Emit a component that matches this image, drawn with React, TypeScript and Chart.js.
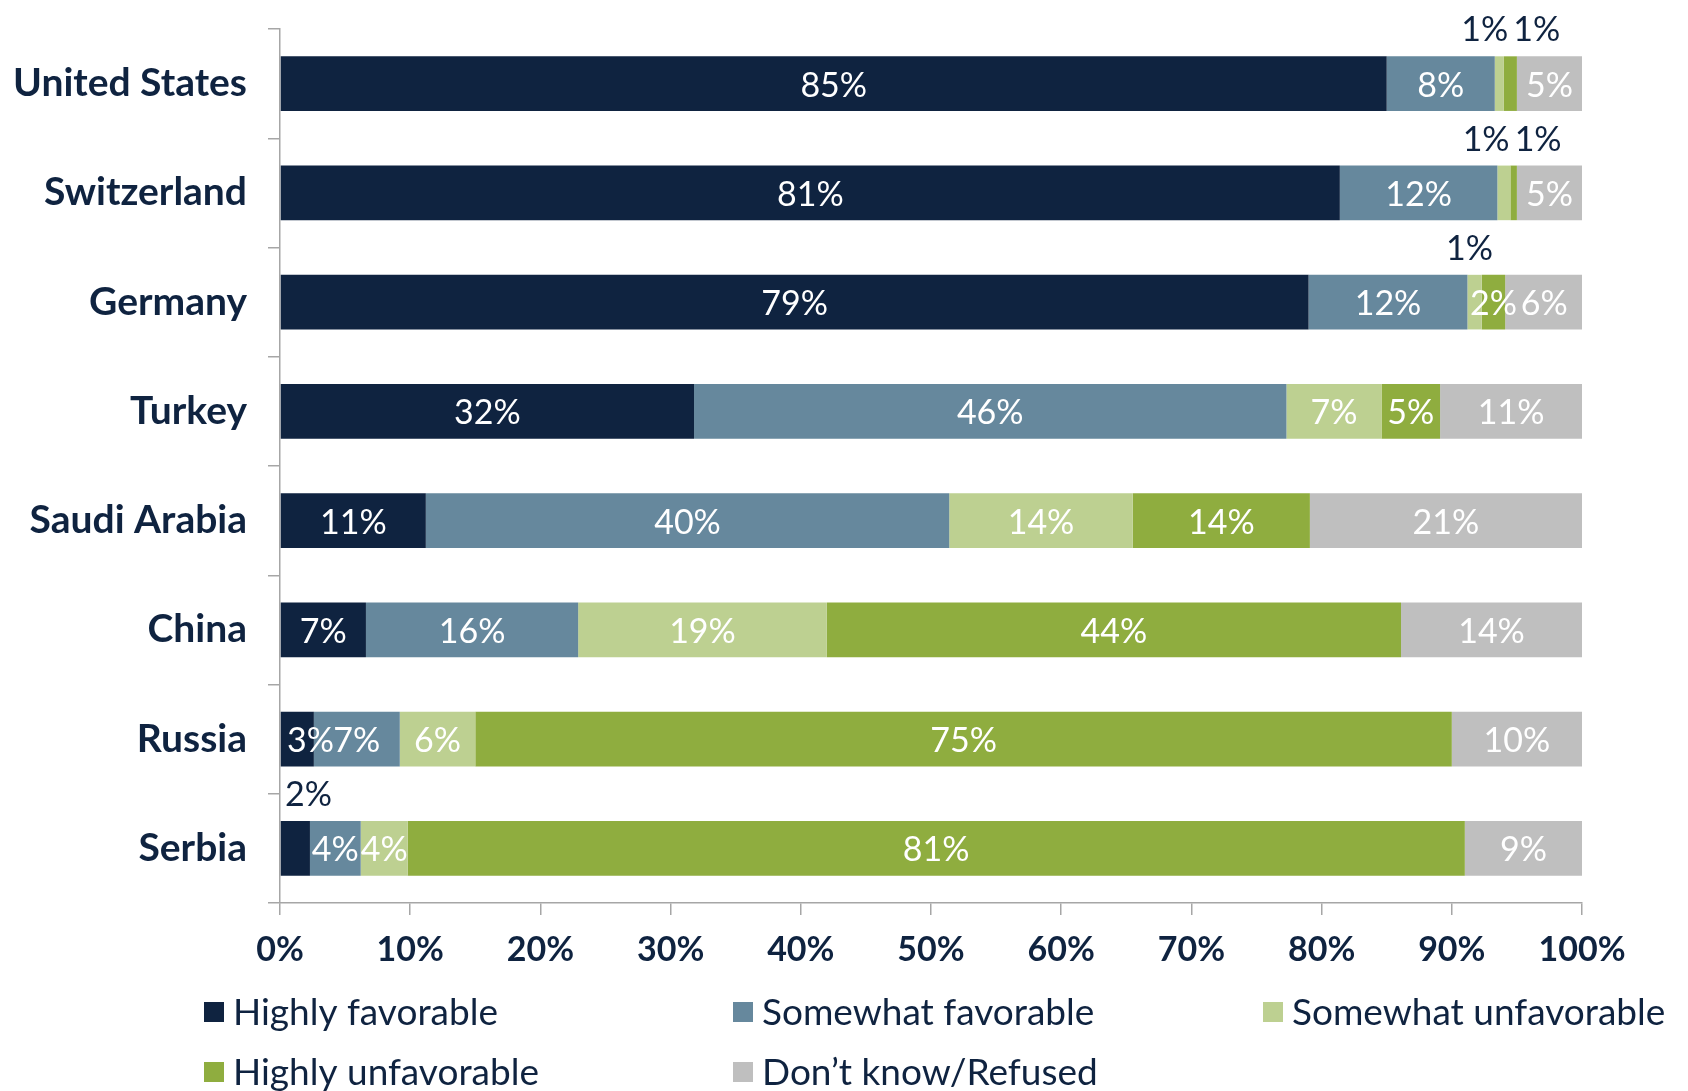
import React, { useEffect, useRef } from "react";
import { Chart, registerables } from "chart.js";

Chart.register(...registerables);

const countries = ["United States", "Switzerland", "Germany", "Turkey", "Saudi Arabia", "China", "Russia", "Serbia"];
const seriesNames = ["Highly favorable", "Somewhat favorable", "Somewhat unfavorable", "Highly unfavorable", "Don\u2019t know/Refused"];
const highlyFavorable = [85.0, 81.4, 79.0, 31.8, 11.2, 6.6, 2.6, 2.3];
const somewhatFavorable = [8.3, 12.1, 12.2, 45.5, 40.2, 16.3, 6.6, 3.9];
const somewhatUnfavorable = [0.7, 1.0, 1.1, 7.3, 14.1, 19.1, 5.8, 3.6];
const highlyUnfavorable = [1.0, 0.5, 1.8, 4.5, 13.6, 44.1, 75.0, 81.2];
const dontKnow = [5.0, 5.0, 6.0, 10.9, 20.9, 13.9, 10.0, 9.0];
const xTickValues = [0, 10, 20, 30, 40, 50, 60, 70, 80, 90, 100];
// [seriesIndex, countryIndex] of labels drawn above the bar
const outsideLabels: [number, number][] = [[2, 0], [3, 0], [2, 1], [3, 1], [2, 2], [0, 7]];

const colors = ["#0F2340", "#66889D", "#BDD091", "#8FAD3F", "#BFBFBF"];
const NAVY = "#0F2340";
const AXIS = "#A6A6A6";
const FONT = "Lato, 'Open Sans', sans-serif";

const isOutside = (ds: number, i: number) => outsideLabels.some(([a, b]) => a === ds && b === i);

const labelPlugin = {
  id: "segLabels",
  afterDatasetsDraw(chart: any) {
    const ctx = chart.ctx;
    const left = chart.chartArea.left;
    ctx.save();
    ctx.font = `34px ${FONT}`;
    ctx.textAlign = "center";
    ctx.textBaseline = "middle";
    chart.data.datasets.forEach((ds: any, di: number) => {
      const meta = chart.getDatasetMeta(di);
      meta.data.forEach((el: any, i: number) => {
        const v = ds.data[i];
        const { x, base, y, height } = el.getProps(["x", "base", "y", "height"], true);
        const txt = Math.round(v) + "%";
        const w = ctx.measureText(txt).width;
        const cx = (x + base) / 2;
        if (isOutside(di, i)) {
          const prevOut = isOutside(di - 1, i);
          const nextOut = isOutside(di + 1, i);
          let px = cx - 5;
          if (nextOut) {
            const nEl = chart.getDatasetMeta(di + 1).data[i];
            const mid = (base + nEl.x) / 2;
            px = mid - 21;
          } else if (prevOut) {
            const pEl = chart.getDatasetMeta(di - 1).data[i];
            const mid = (pEl.base + x) / 2;
            px = mid + 31;
          }
          px = Math.max(px, left + 5 + w / 2);
          ctx.fillStyle = NAVY;
          ctx.fillText(txt, px, y - height / 2 - 26);
        } else {
          const px = Math.max(cx, left + 7 + w / 2);
          ctx.fillStyle = "#FFFFFF";
          ctx.fillText(txt, px, y + 2);
        }
      });
    });
    ctx.restore();
  },
};

const legendPlugin = {
  id: "gridLegend",
  afterDraw(chart: any) {
    const ctx = chart.ctx;
    const cols = [204, 733, 1263];
    const rows = [1012, 1072];
    ctx.save();
    ctx.font = `37px ${FONT}`;
    ctx.textAlign = "left";
    ctx.textBaseline = "middle";
    chart.data.datasets.forEach((ds: any, i: number) => {
      const cx = cols[i % 3];
      const cy = rows[Math.floor(i / 3)];
      ctx.fillStyle = ds.backgroundColor;
      ctx.fillRect(cx, cy - 10, 20, 20);
      ctx.fillStyle = NAVY;
      ctx.fillText(ds.label, cx + 29, cy + 1);
    });
    ctx.restore();
  },
};

export default function App() {
  const ref = useRef<HTMLCanvasElement | null>(null);
  useEffect(() => {
    if (!ref.current) return;
    const seriesData = [highlyFavorable, somewhatFavorable, somewhatUnfavorable, highlyUnfavorable, dontKnow];
    const chart = new Chart(ref.current, {
      type: "bar",
      data: {
        labels: countries,
        datasets: seriesNames.map((name, i) => ({
          label: name,
          data: seriesData[i],
          backgroundColor: colors[i],
          borderWidth: 0,
          barPercentage: 0.5,
          categoryPercentage: 1,
        })),
      },
      options: {
        indexAxis: "y",
        responsive: false,
        animation: false,
        layout: { padding: { left: 0, right: 106, top: 29, bottom: 118 } },
        plugins: { legend: { display: false }, tooltip: { enabled: false } },
        scales: {
          x: {
            type: "linear",
            stacked: true,
            min: 0,
            max: 100,
            afterBuildTicks: (s: any) => {
              s.ticks = xTickValues.map((v) => ({ value: v }));
            },
            ticks: {
              callback: (v: any) => v + "%",
              font: { family: FONT, weight: "bold", size: 34 },
              color: NAVY,
              padding: 15,
              maxRotation: 0,
            },
            grid: { drawOnChartArea: false, drawTicks: true, tickLength: 12, color: AXIS, lineWidth: 1.5 },
            border: { color: AXIS, width: 1.5 },
            afterFit: (s: any) => {
              s.height = 70;
              s.paddingLeft = 0;
              s.paddingRight = 0;
            },
          },
          y: {
            type: "category",
            stacked: true,
            ticks: {
              font: { family: FONT, weight: "bold", size: 39 },
              color: NAVY,
              padding: 21,
            },
            grid: { drawOnChartArea: false, drawTicks: true, tickLength: 12, color: AXIS, offset: true, lineWidth: 1.5 },
            border: { color: AXIS, width: 1.5 },
            afterFit: (s: any) => {
              s.width = 280;
              s.paddingTop = 0;
              s.paddingBottom = 0;
            },
          },
        },
      },
      plugins: [labelPlugin, legendPlugin],
    } as any);
    return () => chart.destroy();
  }, []);
  return (
    <div style={{ position: "absolute", left: 0, top: 0, width: 1688, height: 1091, background: "#fff" }}>
      <canvas ref={ref} width={1688} height={1091} style={{ width: 1688, height: 1091, display: "block" }} />
    </div>
  );
}
